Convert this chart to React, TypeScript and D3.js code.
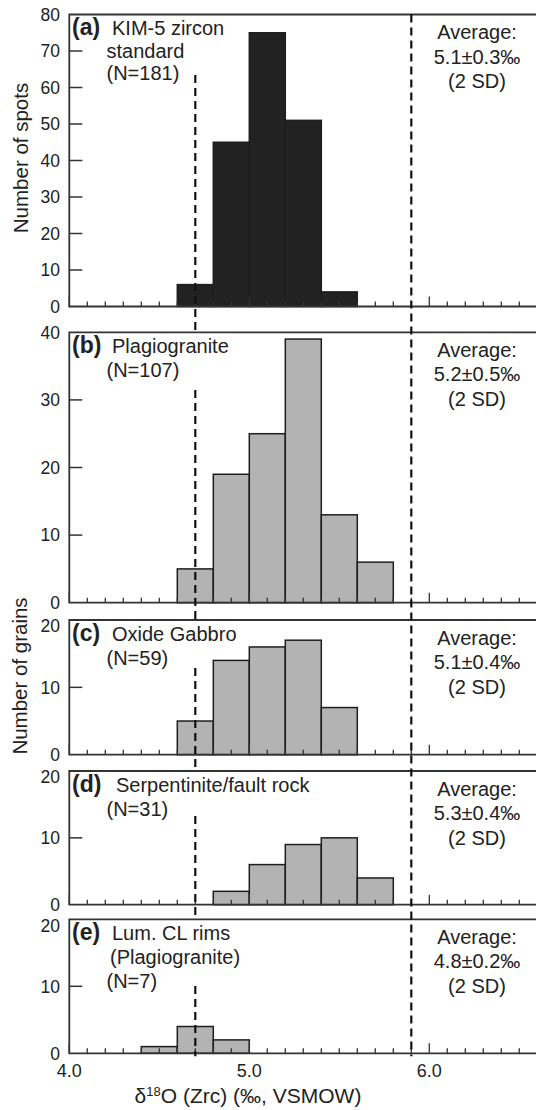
import React from "react";
import * as d3 from "d3";

// histogram data (bin start, ‰) and counts per panel
const BIN_WIDTH = 0.2;
const binsA = [4.6, 4.8, 5.0, 5.2, 5.4];
const countsA = [6, 45, 75, 51, 4];
const binsB = [4.6, 4.8, 5.0, 5.2, 5.4, 5.6];
const countsB = [5, 19, 25, 39, 13, 6];
const binsC = [4.6, 4.8, 5.0, 5.2, 5.4];
const countsC = [5, 14, 16, 17, 7];
const binsD = [4.8, 5.0, 5.2, 5.4, 5.6];
const countsD = [2, 6, 9, 10, 4];
const binsE = [4.4, 4.6, 4.8];
const countsE = [1, 4, 2];

const yMaxes = [80, 40, 20, 20, 20];
const yTickSteps = [10, 10, 10, 10, 10];
const panelLetters = ["(a)", "(b)", "(c)", "(d)", "(e)"];
const panelTitles = [
  ["KIM-5 zircon", "standard", "(N=181)"],
  ["Plagiogranite", "(N=107)"],
  ["Oxide Gabbro", "(N=59)"],
  ["Serpentinite/fault rock", "(N=31)"],
  ["Lum. CL rims", "(Plagiogranite)", "(N=7)"],
];
const averages = ["5.1±0.3‰", "5.2±0.5‰", "5.1±0.4‰", "5.3±0.4‰", "4.8±0.2‰"];
const mantleRange = [4.7, 5.9];
const xTickLabels = [4.0, 5.0, 6.0];

// layout
const W = 536;
const H = 1110;
const tops = [14.5, 332.3, 620, 771, 919.3];
const bottoms = [306.5, 602.7, 754.7, 904.7, 1053.3];
const dashStarts = [75, 390, 668, 816, 986];
const FONT = "'Liberation Sans', Arial, Helvetica, sans-serif";
const INK = "#222";

const x = d3.scaleLinear().domain([4.0, 7.0]).range([69.3, 69.3 + 3 * 180]);

const panels = [
  { bins: binsA, counts: countsA, fill: "#222" },
  { bins: binsB, counts: countsB, fill: "#b3b3b3" },
  { bins: binsC, counts: countsC, fill: "#b3b3b3" },
  { bins: binsD, counts: countsD, fill: "#b3b3b3" },
  { bins: binsE, counts: countsE, fill: "#b3b3b3" },
];

const minorTicks = d3.range(40, 71).map((v) => v / 10);

function Panel({ i }: { i: number }) {
  const p = panels[i];
  const y = d3.scaleLinear().domain([0, yMaxes[i]]).range([bottoms[i], tops[i]]);
  const yTicks = d3.range(0, yMaxes[i] + 1, yTickSteps[i]);
  const title = panelTitles[i];
  const lineGap = i === 0 ? 22.5 : 24.3;
  const titleX = i === 3 ? 116 : 112;
  const firstBase = tops[i] + 20.5;
  return (
    <g>
      {p.bins.map((b, k) => (
        <rect
          key={k}
          x={x(b)}
          y={y(p.counts[k])}
          width={x(b + BIN_WIDTH) - x(b)}
          height={y(0) - y(p.counts[k])}
          fill={p.fill}
          stroke="#1e1e1e"
          strokeWidth={1.5}
        />
      ))}
      {/* frame */}
      <path
        d={`M${x(7.0)},${tops[i]}H${x(4.0)}V${bottoms[i]}H${x(7.0)}`}
        fill="none"
        stroke="#333"
        strokeWidth={1.8}
      />
      {/* x ticks pointing up */}
      {minorTicks.map((t) => {
        const major = Math.abs(t - Math.round(t)) < 1e-6;
        return (
          <line
            key={t}
            x1={x(t)}
            x2={x(t)}
            y1={bottoms[i]}
            y2={bottoms[i] - (major ? 10 : 5)}
            stroke="#333"
            strokeWidth={1.3}
          />
        );
      })}
      {/* y ticks inward */}
      {yTicks.slice(1, -1).map((t) => (
        <line key={t} x1={x(4.0)} x2={x(4.0) + 13} y1={y(t)} y2={y(t)} stroke="#333" strokeWidth={1.5} />
      ))}
      {yTicks.map((t, k) => (
        <text
          key={t}
          x={60}
          y={y(t) + (i >= 2 && k === yTicks.length - 1 ? 6 : 0)}
          dy="0.36em"
          textAnchor="end"
          fontSize={17.5}
          fill={INK}
        >
          {t}
        </text>
      ))}
      {/* panel label */}
      <text x={72} y={firstBase} fontSize={23} fontWeight="bold" fill={INK}>
        {panelLetters[i]}
      </text>
      {title.map((s, k) => (
        <text
          key={k}
          x={k === 0 ? titleX : i === 4 && k === 1 ? 110 : 106.5}
          y={firstBase + k * lineGap}
          fontSize={20}
          fill={INK}
        >
          {s}
        </text>
      ))}
      {/* average */}
      {["Average:", averages[i], "(2 SD)"].map((s, k) => (
        <text
          key={k}
          x={477}
          y={tops[i] + 24.5 + k * 24.5}
          textAnchor="middle"
          fontSize={20}
          fill={INK}
        >
          {s}
        </text>
      ))}
    </g>
  );
}

export default function App() {
  const leftX = x(mantleRange[0]);
  const rightX = x(mantleRange[1]);
  return (
    <div style={{ position: "absolute", left: 0, top: 0, background: "#fff" }}>
      <svg width={W} height={H} style={{ display: "block", overflow: "hidden" }} fontFamily={FONT}>
        <rect width={W} height={H} fill="#fff" />
        {panels.map((_, i) => (
          <Panel key={i} i={i} />
        ))}
        {/* reference lines */}
        {dashStarts.map((s, i) => (
          <line
            key={i}
            x1={leftX}
            x2={leftX}
            y1={s}
            y2={i < 4 ? tops[i + 1] : bottoms[4] + 3}
            stroke="#111"
            strokeWidth={2.2}
            strokeDasharray="8,5"
          />
        ))}
        <line
          x1={rightX}
          x2={rightX}
          y1={tops[0]}
          y2={bottoms[4] + 3}
          stroke="#111"
          strokeWidth={2.2}
          strokeDasharray="8,5"
        />
        {/* x tick labels */}
        {xTickLabels.map((t) => (
          <text key={t} x={x(t)} y={1076.5} textAnchor="middle" fontSize={18} fill={INK}>
            {t.toFixed(1)}
          </text>
        ))}
        <text x={248} y={1103} textAnchor="middle" fontSize={21} fill={INK}>
          δ<tspan fontSize={13} dy={-7.5}>18</tspan>
          <tspan dy={7.5}>O (Zrc) (‰, VSMOW)</tspan>
        </text>
        <text
          transform="translate(27.5,158) rotate(-90)"
          textAnchor="middle"
          fontSize={20.5}
          fill={INK}
        >
          Number of spots
        </text>
        <text
          transform="translate(27,676) rotate(-90)"
          textAnchor="middle"
          fontSize={20.5}
          fill={INK}
        >
          Number of grains
        </text>
      </svg>
    </div>
  );
}
